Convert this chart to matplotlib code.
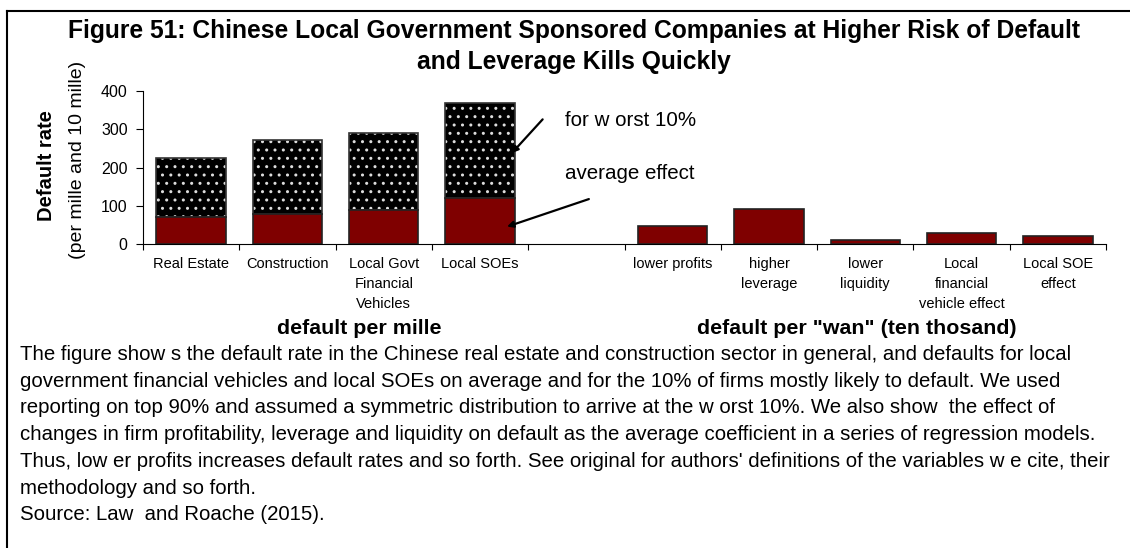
import matplotlib
matplotlib.use("Agg")
import matplotlib.pyplot as plt
from matplotlib.lines import Line2D

plt.rcParams['font.family'] = ['Liberation Sans', 'DejaVu Sans']
plt.rcParams['hatch.linewidth'] = 1.0

# categories (an empty slot separates the two groups)
categories = ['Real Estate', 'Construction', 'Local Govt\nFinancial\nVehicles', 'Local SOEs', '',
              'lower profits', 'higher\nleverage', 'lower\nliquidity',
              'Local\nfinancial\nvehicle effect', 'Local SOE\neffect']
average_effect = [70, 79, 89, 120, None, 48, 91, 11, 30, 21]
worst_10 = [224, 272, 291, 368, None, None, None, None, None, None]

caption = ("The figure show s the default rate in the Chinese real estate and construction sector in general, and defaults for local\n"
           "government financial vehicles and local SOEs on average and for the 10% of firms mostly likely to default. We used\n"
           "reporting on top 90% and assumed a symmetric distribution to arrive at the w orst 10%. We also show  the effect of\n"
           "changes in firm profitability, leverage and liquidity on default as the average coefficient in a series of regression models.\n"
           "Thus, low er profits increases default rates and so forth. See original for authors' definitions of the variables w e cite, their\n"
           "methodology and so forth.\n"
           "Source: Law  and Roache (2015).")

red = '#7f0000'
W, H = 1130, 548
fig = plt.figure(figsize=(W / 100, H / 100), dpi=100)
ax = fig.add_axes([143 / W, 1 - 244.3 / H, (1106 - 143) / W, (244.3 - 91) / H])

x = list(range(len(categories)))
bw = 0.72
for i, (a, w) in enumerate(zip(average_effect, worst_10)):
    if a is None:
        continue
    if w is not None:
        # dotted top part: black face, white dots
        ax.bar(i, w - a, bottom=a, width=bw, color='black', edgecolor='#dddddd',
               hatch='..', linewidth=0, zorder=2)
        ax.bar(i, w - a, bottom=a, width=bw, fill=False, edgecolor='#333333',
               linewidth=1.2, zorder=3)
    ax.bar(i, a, width=bw, color=red, edgecolor='#222222', linewidth=1.2, zorder=3)

ax.set_xlim(-0.5, len(categories) - 0.5)
ax.set_ylim(0, 400)
ax.set_yticks([0, 100, 200, 300, 400])
ax.tick_params(axis='y', labelsize=11.5, length=5, width=0.8, pad=6)
ax.set_xticks([i - 0.5 for i in range(len(categories) + 1)])
ax.set_xticklabels([])
ax.set_xticks(x, minor=True)
ax.set_xticklabels(categories, minor=True, fontsize=10.5, linespacing=1.55, va='top')
ax.tick_params(axis='x', which='major', length=4, width=0.8, direction='out')
ax.tick_params(axis='x', which='minor', length=0, pad=9)
for s in ['top', 'right']:
    ax.spines[s].set_visible(False)
ax.spines['left'].set_linewidth(0.8)
ax.spines['bottom'].set_linewidth(0.8)

# axis label (two lines, first bold)
fig.text(47 / W, 1 - 166 / H, 'Default rate', rotation=90, fontsize=14.5,
         fontweight='bold', ha='center', va='center')
fig.text(77 / W, 1 - 160 / H, '(per mille and 10 mille)', rotation=90, fontsize=14,
         ha='center', va='center')

# group labels
ax.text(1.75, -0.55, 'default per mille', transform=ax.get_xaxis_transform(),
        ha='center', va='center', fontsize=15.4, fontweight='bold')
ax.text(6.91, -0.55, 'default per "wan" (ten thosand)', transform=ax.get_xaxis_transform(),
        ha='center', va='center', fontsize=15.4, fontweight='bold')

# annotations
arrow = dict(arrowstyle='-|>', color='black', lw=1.6, mutation_scale=9, shrinkA=0, shrinkB=0)
ax.annotate('', xy=(3.33, 238), xytext=(3.65, 326), arrowprops=arrow, zorder=5)
ax.annotate('', xy=(3.28, 46), xytext=(4.13, 118), arrowprops=arrow, zorder=5)
ax.text(3.88, 323, 'for w orst 10%', fontsize=14.8, va='center', ha='left')
ax.text(3.88, 184, 'average effect', fontsize=14.8, va='center', ha='left')

# title
fig.text(0.508, 1 - 31 / H, 'Figure 51: Chinese Local Government Sponsored Companies at Higher Risk of Default',
         ha='center', va='center', fontsize=17.7, fontweight='bold')
fig.text(0.508, 1 - 62 / H, 'and Leverage Kills Quickly',
         ha='center', va='center', fontsize=17.7, fontweight='bold')

# caption
fig.text(20 / W, 1 - 345 / H, caption, ha='left', va='top', fontsize=14.7, linespacing=1.515)

# frame lines (top and left)
fig.add_artist(Line2D([7 / W, 1], [1 - 11 / H, 1 - 11 / H], color='black', lw=1.5))
fig.add_artist(Line2D([7 / W, 7 / W], [0, 1 - 11 / H], color='black', lw=1.5))

fig.savefig('out.png', dpi=100)
